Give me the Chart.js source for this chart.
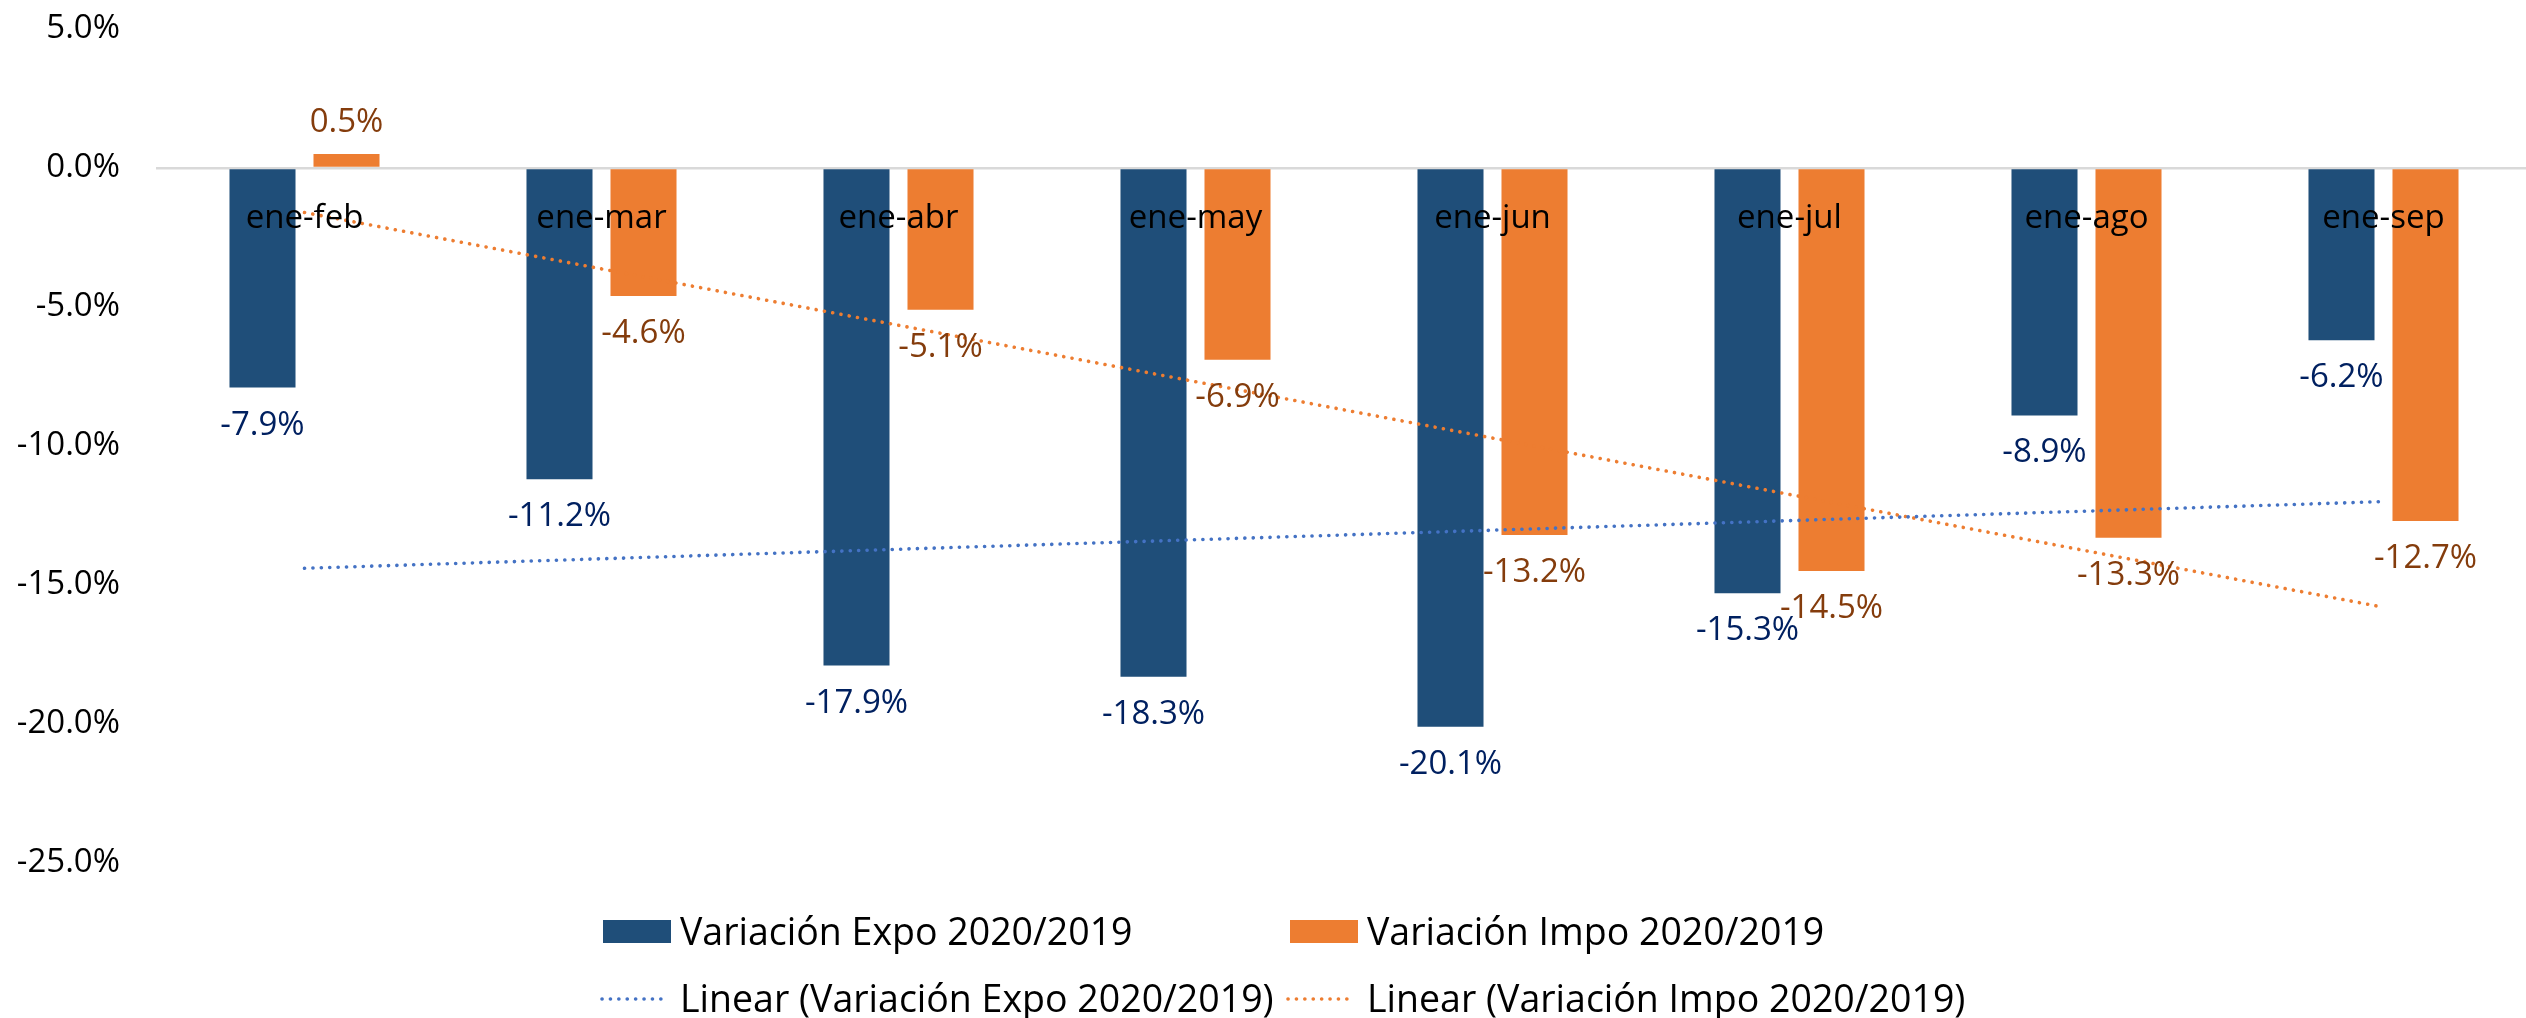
<!DOCTYPE html>
<html><head><meta charset="utf-8">
<script src="https://cdn.jsdelivr.net/npm/chart.js@4.4.1/dist/chart.umd.min.js"></script>
<style>
html,body{margin:0;padding:0;background:#fff;overflow:hidden;width:2526px;height:1018px}
#wrap{position:absolute;left:0;top:0;width:2540px;height:1018px}
</style>
</head><body><div id="wrap"><canvas id="c" width="2540" height="1018"></canvas></div>
<script>
const categories = ['ene-feb','ene-mar','ene-abr','ene-may','ene-jun','ene-jul','ene-ago','ene-sep'];
const expoValues = [-7.9, -11.2, -17.9, -18.3, -20.1, -15.3, -8.9, -6.2];
const impoValues = [0.5, -4.6, -5.1, -6.9, -13.2, -14.5, -13.3, -12.7];
// trendline end values (at ene-feb and ene-sep)
const expoTrend = [-14.4, -12.0];
const impoTrend = [-1.6, -15.8];
const yTicks = [5, 0, -5, -10, -15, -20, -25];
const seriesNames = ['Variación Expo 2020/2019', 'Variación Impo 2020/2019'];
const trendNames = ['Linear (Variación Expo 2020/2019)', 'Linear (Variación Impo 2020/2019)'];

const FONT = '"Open Sans", "Noto Sans", sans-serif';
const C_BLUE = '#1F4E79', C_ORANGE = '#ED7D31';
const C_TBLUE = '#4472C4', C_TORANGE = '#ED7D31';
const C_LBLUE = '#002060', C_LORANGE = '#843C0C';

const labelPlugin = {
  id: 'valueLabels',
  afterDatasetsDraw(chart) {
    const {ctx, scales: {x, y}} = chart;
    ctx.save();
    ctx.font = '33px ' + FONT;
    ctx.textAlign = 'center';
    ctx.textBaseline = 'alphabetic';
    const y0 = y.getPixelForValue(0);
    ctx.fillStyle = '#000';
    categories.forEach((c, i) => ctx.fillText(c, x.getPixelForValue(i), y0 + 60));
    [0, 1].forEach(di => {
      const meta = chart.getDatasetMeta(di);
      ctx.fillStyle = di === 0 ? C_LBLUE : C_LORANGE;
      meta.data.forEach((bar, i) => {
        const v = chart.data.datasets[di].data[i];
        const yy = v >= 0 ? bar.y - 22 : bar.y + 47;
        ctx.fillText(v.toFixed(1) + '%', bar.x, yy);
      });
    });
    ctx.restore();
  }
};

const legendPlugin = {
  id: 'customLegend',
  afterDraw(chart) {
    const {ctx} = chart;
    const ds = chart.data.datasets;
    ctx.save();
    ctx.font = '37.5px ' + FONT;
    ctx.textAlign = 'left';
    ctx.textBaseline = 'alphabetic';
    ctx.fillStyle = '#000';
    const cols = [{box: 603, line: 602, text: 680}, {box: 1290, line: 1288, text: 1367}];
    [0, 1].forEach(k => {
      const d = ds[k];
      ctx.fillStyle = d.backgroundColor;
      ctx.fillRect(cols[k].box, 920, 68, 23);
      ctx.fillStyle = '#000';
      ctx.fillText(d.label, cols[k].text, 945);
    });
    [2, 3].forEach((di, k) => {
      const d = ds[di];
      ctx.save();
      ctx.strokeStyle = d.borderColor;
      ctx.lineWidth = 3.6;
      ctx.lineCap = 'round';
      ctx.setLineDash([0.1, 8.3]);
      ctx.beginPath();
      ctx.moveTo(cols[k].line, 999);
      ctx.lineTo(cols[k].line + 63, 999);
      ctx.stroke();
      ctx.restore();
      ctx.fillStyle = '#000';
      ctx.fillText(d.label, cols[k].text, 1012);
    });
    ctx.restore();
  }
};

function build() {
  new Chart(document.getElementById('c'), {
    data: {
      labels: categories,
      datasets: [
        {type: 'bar', label: seriesNames[0], data: expoValues, backgroundColor: C_BLUE, order: 3,
         categoryPercentage: 0.5657, barPercentage: 0.786},
        {type: 'bar', label: seriesNames[1], data: impoValues, backgroundColor: C_ORANGE, order: 3,
         categoryPercentage: 0.5657, barPercentage: 0.786},
        {type: 'line', label: trendNames[0],
         data: [{x: categories[0], y: expoTrend[0]}, {x: categories[categories.length - 1], y: expoTrend[1]}],
         borderColor: C_TBLUE, borderWidth: 3.6, borderDash: [0.1, 8.3], borderCapStyle: 'round',
         pointRadius: 0, fill: false, order: 1},
        {type: 'line', label: trendNames[1],
         data: [{x: categories[0], y: impoTrend[0]}, {x: categories[categories.length - 1], y: impoTrend[1]}],
         borderColor: C_TORANGE, borderWidth: 3.6, borderDash: [0.1, 8.3], borderCapStyle: 'round',
         pointRadius: 0, fill: false, order: 1}
      ]
    },
    options: {
      responsive: false,
      animation: false,
      devicePixelRatio: 1,
      layout: {padding: {top: 29, bottom: 155, left: 0, right: 8}},
      plugins: {legend: {display: false}, tooltip: {enabled: false}},
      scales: {
        x: {type: 'category', display: false, offset: true},
        y: {
          min: -25, max: 5,
          afterBuildTicks: s => { s.ticks = yTicks.map(v => ({value: v})); },
          afterFit: s => { s.width = 156; },
          ticks: {
            padding: 0, color: '#000',
            font: {family: FONT, size: 33},
            callback: v => Number(v).toFixed(1) + '%'
          },
          grid: {
            drawTicks: true, tickLength: 36, tickColor: 'rgba(0,0,0,0)',
            color: c => (c.tick && c.tick.value === 0) ? '#D9D9D9' : 'rgba(0,0,0,0)',
            lineWidth: 2.5
          },
          border: {display: false}
        }
      }
    },
    plugins: [labelPlugin, legendPlugin]
  });
}
if (document.fonts && document.fonts.load) {
  Promise.all([document.fonts.load('33px "Open Sans"'), document.fonts.load('37px "Open Sans"')])
    .then(build, build);
} else { build(); }
</script>
</body></html>
